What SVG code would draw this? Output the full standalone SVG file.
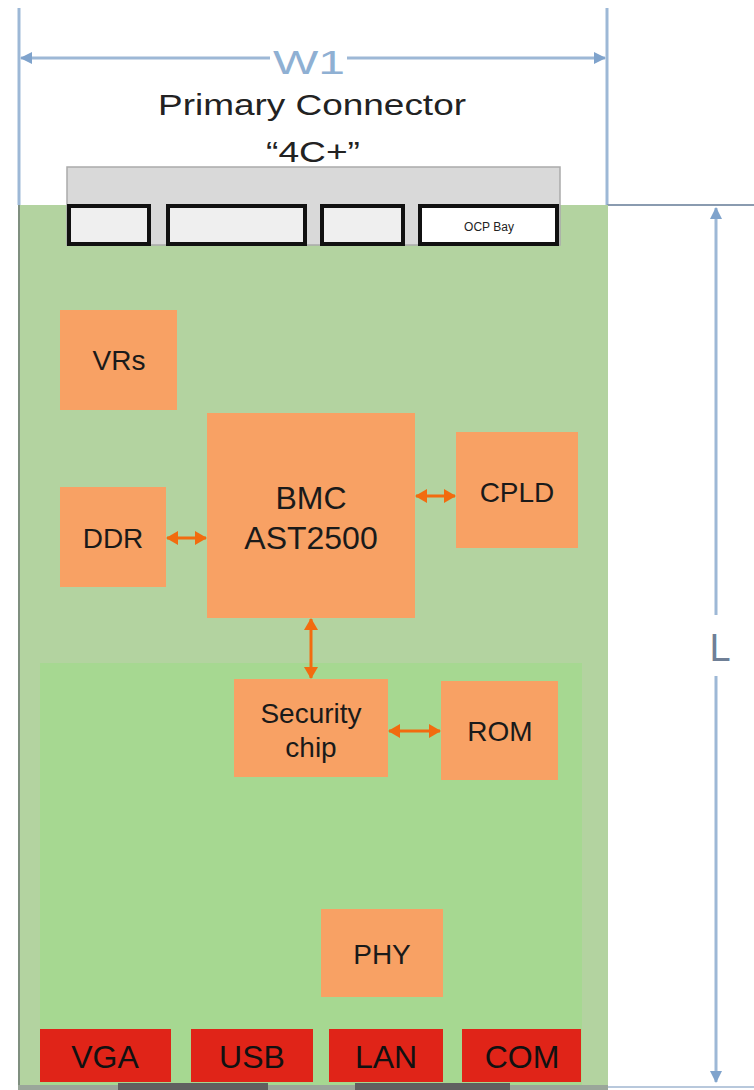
<svg xmlns="http://www.w3.org/2000/svg" width="754" height="1090" viewBox="0 0 754 1090">
<defs>
<style>
.lbl{font-family:"Liberation Sans",Arial,sans-serif;font-size:28px;fill:#1a1a1a;text-anchor:middle}
.big{font-size:32px}
.port{font-family:"Liberation Sans",Arial,sans-serif;font-size:32px;fill:#111;text-anchor:middle}
.blk{fill:#f8a164}
.red{fill:#e02418}
.dim{stroke:#9db8d6;stroke-width:3;fill:none}
.con{stroke:#f26b0f;stroke-width:3;fill:none}
.slot{stroke:#111;stroke-width:4;fill:#efefef}
</style>
<marker id="ah" viewBox="0 0 12 14" refX="11" refY="7" markerWidth="12" markerHeight="14" markerUnits="userSpaceOnUse" orient="auto-start-reverse">
<path d="M0,0 L12,7 L0,14 Z" fill="#f26b0f"/>
</marker>
<marker id="dh" viewBox="0 0 12 12" refX="11" refY="6" markerWidth="12" markerHeight="12" markerUnits="userSpaceOnUse" orient="auto-start-reverse">
<path d="M0,0 L12,6 L0,12 Z" fill="#7fa3cc"/>
</marker>
</defs>
<rect width="754" height="1090" fill="#ffffff"/>
<g id="dimensions">
<line x1="19" y1="8" x2="19" y2="205" class="dim"/>
<line x1="607" y1="8" x2="607" y2="205" class="dim"/>
<line x1="21" y1="58" x2="270" y2="58" class="dim" marker-start="url(#dh)"/>
<line x1="347" y1="58" x2="605" y2="58" class="dim" marker-end="url(#dh)"/>
<text x="309" y="74" font-family="Liberation Sans,Arial,sans-serif" font-size="34" fill="#8fb0d3" text-anchor="middle" textLength="72" lengthAdjust="spacingAndGlyphs">W1</text>
<line x1="607" y1="205" x2="754" y2="205" stroke="#8a9bb0" stroke-width="2"/>
<line x1="716" y1="208" x2="716" y2="615" class="dim" marker-start="url(#dh)"/>
<line x1="716" y1="676" x2="716" y2="1082" class="dim" marker-end="url(#dh)"/>
<text x="720" y="661" font-family="Liberation Sans,Arial,sans-serif" font-size="38" fill="#6f7f96" text-anchor="middle">L</text>
<line x1="607" y1="1087" x2="754" y2="1087" stroke="#b8c8dc" stroke-width="2"/>
</g>
<g id="board">
<rect x="18" y="205" width="590" height="882" fill="#b3d3a0"/>
<line x1="19" y1="205" x2="19" y2="1087" stroke="#7f8f7f" stroke-width="2"/>
<rect x="40" y="663" width="542" height="424" fill="#a6d891"/>
<rect x="18" y="1085" width="590" height="5" fill="#9aa69a"/>
<rect x="118" y="1083" width="150" height="7" fill="#606060"/>
<rect x="355" y="1083" width="155" height="7" fill="#606060"/>
</g>
<g id="primary-connector">
<text x="312" y="115" font-family="Liberation Sans,Arial,sans-serif" font-size="29" fill="#222" text-anchor="middle" textLength="308" lengthAdjust="spacingAndGlyphs">Primary Connector</text>
<text x="313" y="162" font-family="Liberation Sans,Arial,sans-serif" font-size="29" fill="#222" text-anchor="middle" textLength="94" lengthAdjust="spacingAndGlyphs">“4C+”</text>
<rect x="67" y="167" width="493" height="78" fill="#d9d9d9" stroke="#aaaaaa" stroke-width="1.5"/>
<rect x="69" y="206" width="80" height="38" class="slot"/>
<rect x="168" y="206" width="137" height="38" class="slot"/>
<rect x="322" y="206" width="81" height="38" class="slot"/>
<rect x="420" y="206" width="137" height="38" class="slot" style="fill:#ffffff"/>
<text x="489" y="231" font-family="Liberation Sans,Arial,sans-serif" font-size="12" fill="#222" text-anchor="middle">OCP Bay</text>
</g>
<g id="vrs"><rect x="60" y="310" width="117" height="100" class="blk"/><text x="119" y="370" class="lbl">VRs</text></g>
<g id="bmc"><rect x="207" y="413" width="208" height="205" class="blk"/><text x="311" y="509" class="lbl big">BMC</text><text x="311" y="549" class="lbl big">AST2500</text></g>
<g id="cpld"><rect x="456" y="432" width="122" height="116" class="blk"/><text x="517" y="502" class="lbl">CPLD</text></g>
<g id="ddr"><rect x="60" y="487" width="106" height="100" class="blk"/><text x="113" y="548" class="lbl">DDR</text></g>
<g id="security"><rect x="234" y="679" width="154" height="98" class="blk"/><text x="311" y="723" class="lbl">Security</text><text x="311" y="757" class="lbl">chip</text></g>
<g id="rom"><rect x="441" y="681" width="117" height="99" class="blk"/><text x="500" y="741" class="lbl">ROM</text></g>
<g id="phy"><rect x="321" y="909" width="122" height="88" class="blk"/><text x="382" y="964" class="lbl">PHY</text></g>
<g id="vga"><rect x="40" y="1029" width="131" height="53" class="red"/><text x="105" y="1068" class="port">VGA</text></g>
<g id="usb"><rect x="191" y="1029" width="122" height="53" class="red"/><text x="252" y="1068" class="port">USB</text></g>
<g id="lan"><rect x="329" y="1029" width="114" height="53" class="red"/><text x="386" y="1068" class="port">LAN</text></g>
<g id="com"><rect x="462" y="1029" width="119" height="53" class="red"/><text x="522" y="1068" class="port">COM</text></g>
<g id="connectors">
<line x1="167" y1="538" x2="206" y2="538" class="con" marker-start="url(#ah)" marker-end="url(#ah)"/>
<line x1="416" y1="496" x2="455" y2="496" class="con" marker-start="url(#ah)" marker-end="url(#ah)"/>
<line x1="311" y1="619" x2="311" y2="678" class="con" marker-start="url(#ah)" marker-end="url(#ah)"/>
<line x1="389" y1="731" x2="440" y2="731" class="con" marker-start="url(#ah)" marker-end="url(#ah)"/>
</g>
</svg>
